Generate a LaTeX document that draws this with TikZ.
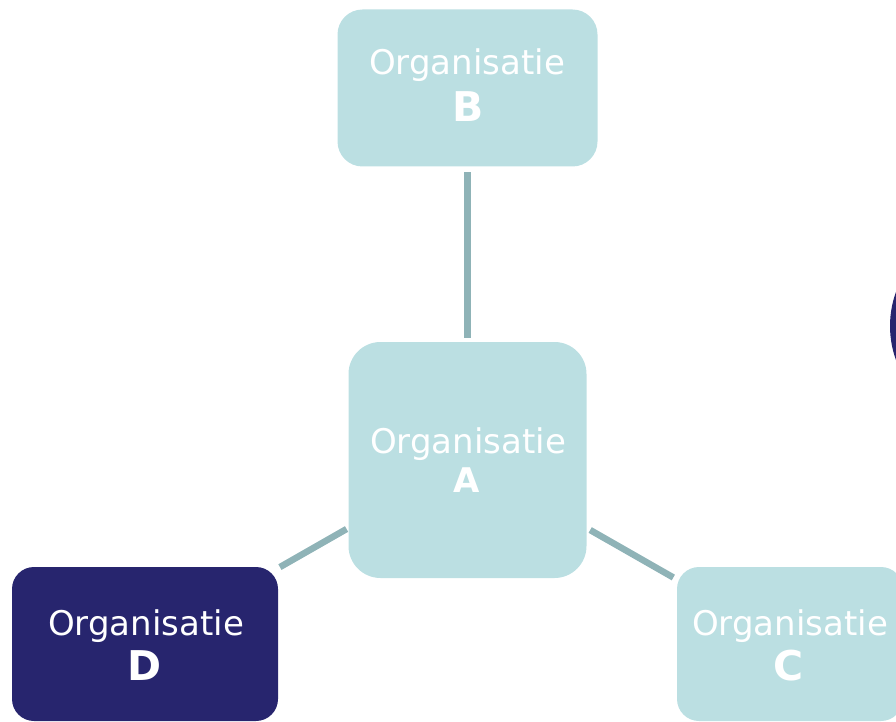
\documentclass[tikz,border=0pt]{standalone}
\usepackage{fontspec}
\setmainfont{DejaVu Sans}
\definecolor{boxlight}{RGB}{187,223,226}
\definecolor{boxdark}{RGB}{39,37,110}
\definecolor{connline}{RGB}{143,179,183}
\tikzset{
  orgbox/.style={rectangle, inner sep=0pt, draw=none},
  lightbox/.style={orgbox, fill=boxlight},
  darkbox/.style={orgbox, fill=boxdark},
  orgname/.style={anchor=base, inner sep=0pt, text=white, font=\fontsize{34}{40}\selectfont},
  orgletter/.style={anchor=base, inner sep=0pt, text=white, font=\fontsize{41}{48}\selectfont\bfseries},
  conn/.style={draw=connline, line width=6.5pt}
}
\begin{document}
\begin{tikzpicture}[x=1pt,y=-1pt]
\useasboundingbox (0,0) rectangle (896,722);
\clip (0,0) rectangle (896,722);
% partial shape at right edge
\node[circle, fill=boxdark, minimum size=200pt, inner sep=0pt] (E) at (990,326) {};
% boxes
\node[lightbox, minimum width=260pt, minimum height=157pt, rounded corners=25pt] (B) at (467.5,88) {};
\node[lightbox, minimum width=238pt, minimum height=236pt, rounded corners=32pt] (A) at (467.5,460) {};
\node[darkbox, minimum width=266pt, minimum height=154pt, rounded corners=22pt] (D) at (145,644) {};
\node[lightbox, minimum width=226pt, minimum height=154pt, rounded corners=22pt] (C) at (790,644) {};
% connectors
\draw[conn, shorten <=5.5pt, shorten >=4pt] (B) -- (A);
\draw[conn, shorten <=2pt, shorten >=2pt] (A) -- (D);
\draw[conn, shorten <=4pt, shorten >=4pt] (A) -- (C);
% texts
\node[orgname] (Bt) at (467,75) {Organisatie};
\node[orgletter] (Bl) at (468,122) {B};
\node[orgname] (At) at (468,453) {Organisatie};
\node[orgletter, font=\fontsize{34}{40}\selectfont\bfseries] (Al) at (467,492) {A};
\node[orgname] (Dt) at (146,635) {Organisatie};
\node[orgletter] (Dl) at (145,680) {D};
\node[orgname] (Ct) at (790,635) {Organisatie};
\node[orgletter] (Cl) at (789,680) {C};
\end{tikzpicture}
\end{document}
